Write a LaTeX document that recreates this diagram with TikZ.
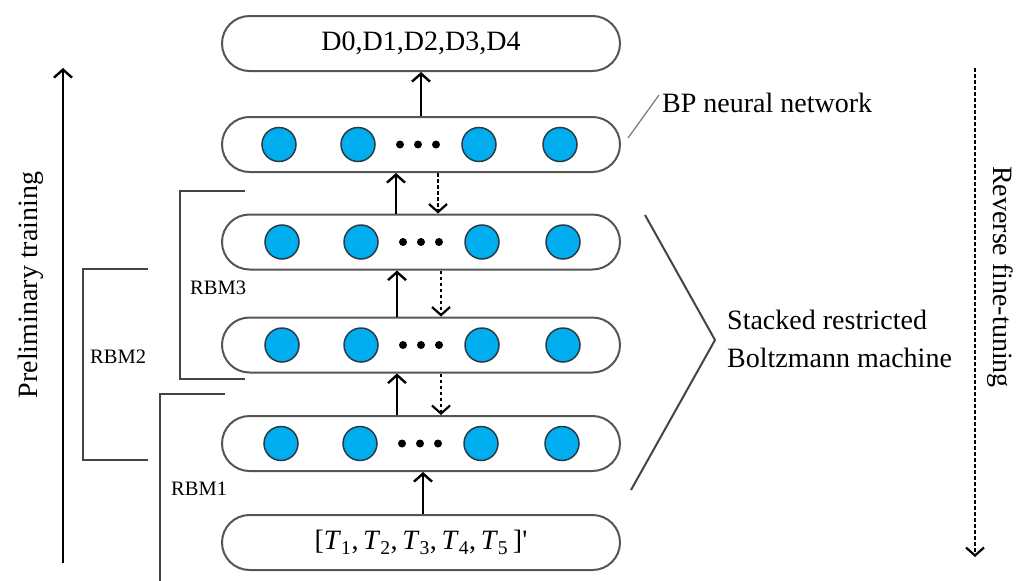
\documentclass[tikz,border=0pt]{standalone}
\usepackage{fontspec}
\setmainfont{Liberation Serif}
\usetikzlibrary{arrows.meta}
\definecolor{neuron}{HTML}{00AEEF}
\definecolor{neuronedge}{HTML}{2B3A45}
\definecolor{boxedge}{HTML}{555555}
\definecolor{brk}{HTML}{444444}
\begin{document}
\begin{tikzpicture}[x=1pt,y=-1pt,
  layerbox/.style={draw=boxedge,line width=2pt,minimum width=398pt,minimum height=55pt,rounded corners=27.5pt,inner sep=0pt,font=\fontsize{28}{32}\selectfont},
  neu/.style={circle,draw=neuronedge,line width=1.5pt,fill=neuron,minimum size=34pt,inner sep=0pt},
  blackdot/.style={circle,fill=black,minimum size=8pt,inner sep=0pt},
  tipb/.style={-{Straight Barb[length=8pt,width=18pt,line width=2.4pt]}},
  uparr/.style={line width=2.8pt,tipb},
  downarr/.style={line width=2.4pt,dash pattern=on 3.5pt off 2.5pt,-{Straight Barb[length=8pt,width=18pt,line width=2.2pt]}},
  brack/.style={draw=brk,line width=2pt},
  lbl/.style={font=\fontsize{28}{32}\selectfont,inner sep=0pt},
  rbm/.style={font=\fontsize{20.5}{24}\selectfont,inner sep=0pt,anchor=west}
]
\useasboundingbox (0,0) rectangle (1031,581);

% layer boxes
\node[layerbox] (b1) at (421,43.5) {D0,D1,D2,D3,D4};
\node[layerbox] (b2) at (421,144.5) {};
\node[layerbox] (b3) at (421,242) {};
\node[layerbox] (b4) at (421,345) {};
\node[layerbox] (b5) at (421,443.5) {};
\node[layerbox] (b6) at (421,542.5) {[\textit{T}\textsubscript{1},\,\textit{T}\textsubscript{2},\,\textit{T}\textsubscript{3},\,\textit{T}\textsubscript{4},\,\textit{T}\textsubscript{5}\,]\textquotesingle};

% neurons
\foreach \b/\y/\s in {2/144.5/0,3/242/3,4/345/3,5/443.5/2}{
  \node[neu] (n\b a) at (279+\s,\y) {};
  \node[neu] (n\b b) at (358+\s,\y) {};
  \node[neu] (n\b c) at (479+\s,\y) {};
  \node[neu] (n\b d) at (560+\s,\y) {};
  \node[blackdot] (d\b a) at (400+\s,\y) {};
  \node[blackdot] (d\b b) at (418+\s,\y) {};
  \node[blackdot] (d\b c) at (436+\s,\y) {};
}

% arrows between layers
\draw[uparr] (b2.north) -- (b1.south);
\draw[uparr] ([xshift=-25pt]b3.north) -- ([xshift=-25pt]b2.south);
\draw[downarr] ([xshift=17pt]b2.south) -- ([xshift=17pt]b3.north);
\draw[uparr] ([xshift=-24pt]b4.north) -- ([xshift=-24pt]b3.south);
\draw[downarr] ([xshift=20pt]b3.south) -- ([xshift=20pt]b4.north);
\draw[uparr] ([xshift=-24pt]b5.north) -- ([xshift=-24pt]b4.south);
\draw[downarr] ([xshift=20pt]b4.south) -- ([xshift=20pt]b5.north);
\draw[uparr] ([xshift=2pt]b6.north) -- ([xshift=2pt]b5.south);

% RBM brackets
\draw[brack] (245,191) -- (180,191) -- (180,379) -- (245,379);
\draw[brack] (148,269) -- (83,269) -- (83,460) -- (148,460);
\draw[brack] (225,394) -- (160,394) -- (160,581);
\node[rbm] (r3) at (190,288) {RBM3};
\node[rbm] (r2) at (90,357) {RBM2};
\node[rbm] (r1) at (171,489) {RBM1};

% BP label
\node[lbl,anchor=west] (bp) at (662,103) {BP neural network};
\coordinate (bpl) at (628,138);
\draw[draw=gray,line width=1.3pt] (bpl) -- ([xshift=-3pt,yshift=8pt]bp.west);

% stacked RBM bracket
\coordinate (s1) at (645,215);
\coordinate (s2) at (715,340);
\coordinate (s3) at (631,490);
\draw[brack] (s1) -- (s2) -- (s3);
\node[lbl,anchor=west,align=left] (srbm) at (727,338.5) {Stacked restricted\\[6pt]Boltzmann machine};

% preliminary training
\coordinate (pt0) at (63,563);
\coordinate (pt1) at (63,68);
\draw[uparr] (pt0) -- (pt1);
\node[lbl,rotate=90] (ptl) at (31,285) {Preliminary training};

% reverse fine-tuning
\coordinate (rf0) at (975,68);
\coordinate (rf1) at (975,557);
\draw[downarr] (rf0) -- (rf1);
\node[lbl,rotate=-90] (rfl) at (1000,277) {Reverse fine-tuning};
\end{tikzpicture}
\end{document}
